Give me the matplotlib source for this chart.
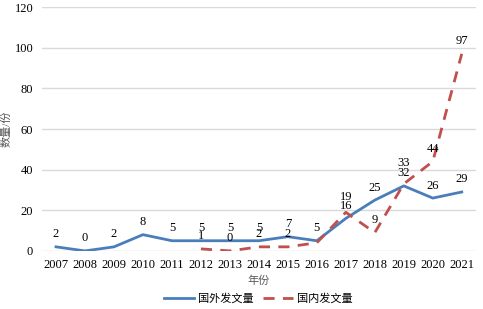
import matplotlib.pyplot as plt

plt.rcParams['font.family'] = ['Liberation Serif', 'Noto Sans CJK SC']

years = [2007, 2008, 2009, 2010, 2011, 2012, 2013, 2014, 2015, 2016, 2017, 2018, 2019, 2020, 2021]
foreign = [2, 0, 2, 8, 5, 5, 5, 5, 7, 5, 16, 25, 32, 26, 29]
domestic_years = [2012, 2013, 2014, 2015, 2016, 2017, 2018, 2019, 2020, 2021]
domestic = [1, 0, 2, 2, 4, 19, 9, 33, 44, 97]

blue = '#4a7ebb'
red = '#c0504d'

fig = plt.figure(figsize=(4.83, 3.09), dpi=100)
ax = fig.add_axes([0.086, 0.188, 0.9, 0.789])

ax.plot(years, foreign, color=blue, linewidth=2, label='国外发文量')
ax.plot(domestic_years, domestic, color=red, linewidth=2, linestyle=(0, (4, 3)), label='国内发文量')

# data labels (offsets in points)
for x, y in zip(years, foreign):
    ax.annotate(str(y), (x, y), xytext=(0, 9), textcoords='offset points',
                ha='center', va='center', fontsize=9)
for x, y in zip(domestic_years, domestic):
    if x == 2016:
        continue
    dy = {2017: 11, 2019: 15}.get(x, 9)
    ax.annotate(str(y), (x, y), xytext=(0, dy), textcoords='offset points',
                ha='center', va='center', fontsize=9)

ax.set_xlim(2006.5, 2021.5)
ax.set_ylim(0, 120)
ax.set_xticks(years)
ax.set_yticks(range(0, 121, 20))
ax.tick_params(length=0, labelsize=9, colors='#000000', pad=6)
ax.grid(axis='y', color='#d9d9d9', linewidth=1)
ax.set_axisbelow(True)
for s in ax.spines.values():
    s.set_visible(False)

ax.set_xlabel('年份', fontsize=8, color='#595959', labelpad=3)
ax.set_ylabel('数量/份', fontsize=8, color='#595959', va='center')
ax.yaxis.set_label_coords(-0.081, 0.5)

fig.legend(loc='center', bbox_to_anchor=(0.535, 0.033), ncol=2, frameon=False,
           fontsize=8, handlelength=2.7, handletextpad=0.3, columnspacing=0.9)

fig.savefig('out.png', dpi=100)
